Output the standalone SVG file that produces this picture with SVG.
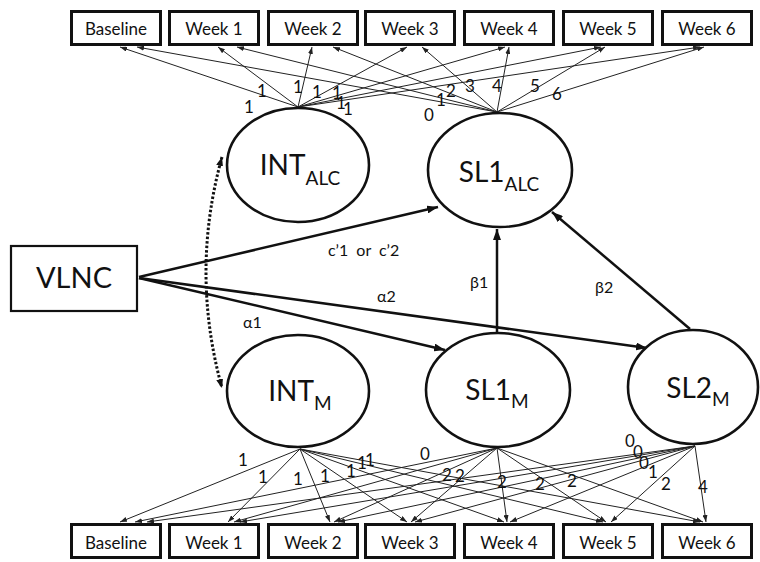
<svg xmlns="http://www.w3.org/2000/svg" width="760" height="562" viewBox="0 0 760 562">
  <defs>
    <style>
      text { font-family: Lato, "Noto Sans", "DejaVu Sans", sans-serif; fill: #111; }
      .box { fill: #fff; stroke: #111; stroke-width: 3; }
      .lat { fill: #fff; stroke: #111; stroke-width: 2.6; }
      .blabel { font-size: 17px; text-anchor: middle; }
      .lname { font-size: 28px; text-anchor: middle; }
      .sub { font-size: 19px; }
      .load { stroke: #222; stroke-width: 1; fill: none; marker-end: url(#tip); }
      .path { stroke: #111; stroke-width: 2.5; fill: none; marker-end: url(#head); }
      .num { font-size: 17px; text-anchor: middle; }
      .coef { font-size: 16px; }
    </style>
    <marker id="head" viewBox="0 0 11 8" refX="11" refY="4" markerWidth="11" markerHeight="8" markerUnits="userSpaceOnUse" orient="auto">
      <path d="M0,0 L11,4 L0,8 z" fill="#111"/>
    </marker>
    <marker id="tip" viewBox="0 0 7 5" refX="7" refY="2.5" markerWidth="7" markerHeight="5" markerUnits="userSpaceOnUse" orient="auto">
      <path d="M0,0 L7,2.5 L0,5 z" fill="#222"/>
    </marker>
    <marker id="dhead" viewBox="0 0 9 7" refX="9" refY="3.5" markerWidth="9" markerHeight="7" markerUnits="userSpaceOnUse" orient="auto-start-reverse">
      <path d="M0,0 L9,3.5 L0,7 z" fill="#111"/>
    </marker>
  </defs>

  <rect width="760" height="562" fill="#fff"/>

  <!-- connectors -->
  <g id="connectors">
    <!-- loadings of the alcohol growth factors -->
    <line class="load" x1="298" y1="107" x2="120" y2="47"/>
    <line class="load" x1="298" y1="107" x2="218" y2="47"/>
    <line class="load" x1="298" y1="107" x2="312" y2="47"/>
    <line class="load" x1="298" y1="107" x2="407" y2="47"/>
    <line class="load" x1="298" y1="107" x2="505" y2="47"/>
    <line class="load" x1="298" y1="107" x2="601" y2="47"/>
    <line class="load" x1="298" y1="107" x2="700" y2="47"/>
    <line class="load" x1="497" y1="112" x2="137" y2="47"/>
    <line class="load" x1="497" y1="112" x2="237" y2="47"/>
    <line class="load" x1="497" y1="112" x2="333" y2="47"/>
    <line class="load" x1="497" y1="112" x2="422" y2="47"/>
    <line class="load" x1="497" y1="112" x2="509" y2="47"/>
    <line class="load" x1="497" y1="112" x2="605" y2="47"/>
    <line class="load" x1="497" y1="112" x2="704" y2="47"/>

    <!-- loadings of the mediator growth factors -->
    <line class="load" x1="300" y1="449" x2="120" y2="522"/>
    <line class="load" x1="300" y1="449" x2="228" y2="522"/>
    <line class="load" x1="300" y1="449" x2="330" y2="522"/>
    <line class="load" x1="300" y1="449" x2="407" y2="522"/>
    <line class="load" x1="300" y1="449" x2="504" y2="522"/>
    <line class="load" x1="300" y1="449" x2="603" y2="522"/>
    <line class="load" x1="300" y1="449" x2="700" y2="522"/>
    <line class="load" x1="497" y1="448" x2="135" y2="522"/>
    <line class="load" x1="497" y1="448" x2="234" y2="522"/>
    <line class="load" x1="497" y1="448" x2="334" y2="522"/>
    <line class="load" x1="497" y1="448" x2="411" y2="522"/>
    <line class="load" x1="497" y1="448" x2="507" y2="522"/>
    <line class="load" x1="497" y1="448" x2="606" y2="522"/>
    <line class="load" x1="497" y1="448" x2="703" y2="522"/>
    <line class="load" x1="695" y1="446" x2="147" y2="522"/>
    <line class="load" x1="695" y1="446" x2="240" y2="522"/>
    <line class="load" x1="695" y1="446" x2="338" y2="522"/>
    <line class="load" x1="695" y1="446" x2="415" y2="522"/>
    <line class="load" x1="695" y1="446" x2="510" y2="522"/>
    <line class="load" x1="695" y1="446" x2="611" y2="522"/>
    <line class="load" x1="695" y1="446" x2="706" y2="522"/>

    <!-- structural paths -->
    <line class="path" x1="139" y1="277" x2="438" y2="207"/>
    <line class="path" x1="139" y1="278" x2="445" y2="350"/>
    <line class="path" x1="139" y1="278" x2="647" y2="348"/>
    <line class="path" x1="497" y1="333" x2="497" y2="229"/>
    <line class="path" x1="690" y1="329" x2="552" y2="212"/>

    <!-- intercept covariance -->
    <path d="M222,157 Q190,272 222,388" fill="none" stroke="#111" stroke-width="3" stroke-dasharray="2.5 2" marker-start="url(#dhead)" marker-end="url(#dhead)"/>

    <!-- path coefficients -->
    <text class="coef" x="328" y="256" word-spacing="4">c’1 or c’2</text>
    <text class="coef" x="243" y="328">α1</text>
    <text class="coef" x="377" y="302">α2</text>
    <text class="coef" x="470" y="288">β1</text>
    <text class="coef" x="595" y="293">β2</text>

    <!-- loading values, alcohol -->
    <text class="num" x="249" y="113">1</text>
    <text class="num" x="262" y="97">1</text>
    <text class="num" x="298" y="93">1</text>
    <text class="num" x="317" y="98">1</text>
    <text class="num" x="337" y="99">1</text>
    <text class="num" x="341" y="109">1</text>
    <text class="num" x="348" y="115">1</text>
    <text class="num" x="429" y="121">0</text>
    <text class="num" x="441" y="106">1</text>
    <text class="num" x="451" y="97">2</text>
    <text class="num" x="470" y="92">3</text>
    <text class="num" x="497" y="92">4</text>
    <text class="num" x="535" y="92">5</text>
    <text class="num" x="557" y="100">6</text>

    <!-- loading values, mediator -->
    <text class="num" x="243" y="466">1</text>
    <text class="num" x="263" y="483">1</text>
    <text class="num" x="298" y="485">1</text>
    <text class="num" x="325" y="482">1</text>
    <text class="num" x="351" y="477">1</text>
    <text class="num" x="362" y="469">1</text>
    <text class="num" x="370" y="466">1</text>
    <text class="num" x="425" y="460">0</text>
    <text class="num" x="447" y="481">2</text>
    <text class="num" x="460" y="482">2</text>
    <text class="num" x="502" y="488">2</text>
    <text class="num" x="540" y="490">2</text>
    <text class="num" x="572" y="487">2</text>
    <text class="num" x="630" y="447">0</text>
    <text class="num" x="638" y="458">0</text>
    <text class="num" x="644" y="469">0</text>
    <text class="num" x="653" y="478">1</text>
    <text class="num" x="666" y="490">2</text>
    <text class="num" x="703" y="493">4</text>
  </g>

  <!-- observed alcohol measures -->
  <g id="alc-baseline"><rect class="box" x="71.5" y="11.5" width="89" height="33"/><text class="blabel" x="116" y="35">Baseline</text></g>
  <g id="alc-week1"><rect class="box" x="169.5" y="11.5" width="89" height="33"/><text class="blabel" x="214" y="35">Week 1</text></g>
  <g id="alc-week2"><rect class="box" x="268.5" y="11.5" width="89" height="33"/><text class="blabel" x="313" y="35">Week 2</text></g>
  <g id="alc-week3"><rect class="box" x="365.5" y="11.5" width="89" height="33"/><text class="blabel" x="410" y="35">Week 3</text></g>
  <g id="alc-week4"><rect class="box" x="464.5" y="11.5" width="89" height="33"/><text class="blabel" x="509" y="35">Week 4</text></g>
  <g id="alc-week5"><rect class="box" x="563.5" y="11.5" width="89" height="33"/><text class="blabel" x="608" y="35">Week 5</text></g>
  <g id="alc-week6"><rect class="box" x="662.5" y="11.5" width="89" height="33"/><text class="blabel" x="707" y="35">Week 6</text></g>

  <!-- observed mediator measures -->
  <g id="m-baseline"><rect class="box" x="71.5" y="524.5" width="89" height="33"/><text class="blabel" x="116" y="549">Baseline</text></g>
  <g id="m-week1"><rect class="box" x="169.5" y="524.5" width="89" height="33"/><text class="blabel" x="214" y="549">Week 1</text></g>
  <g id="m-week2"><rect class="box" x="268.5" y="524.5" width="89" height="33"/><text class="blabel" x="313" y="549">Week 2</text></g>
  <g id="m-week3"><rect class="box" x="365.5" y="524.5" width="89" height="33"/><text class="blabel" x="410" y="549">Week 3</text></g>
  <g id="m-week4"><rect class="box" x="464.5" y="524.5" width="89" height="33"/><text class="blabel" x="509" y="549">Week 4</text></g>
  <g id="m-week5"><rect class="box" x="563.5" y="524.5" width="89" height="33"/><text class="blabel" x="608" y="549">Week 5</text></g>
  <g id="m-week6"><rect class="box" x="662.5" y="524.5" width="89" height="33"/><text class="blabel" x="707" y="549">Week 6</text></g>

  <!-- predictor -->
  <g id="vlnc">
    <rect x="11" y="246" width="126" height="65" fill="#fff" stroke="#111" stroke-width="2.2"/>
    <text x="74" y="288" font-size="29" text-anchor="middle">VLNC</text>
  </g>

  <!-- latent growth factors -->
  <g id="int-alc">
    <ellipse class="lat" cx="298" cy="165" rx="71" ry="57"/>
    <text class="lname" x="300" y="175">INT<tspan class="sub" dy="10">ALC</tspan></text>
  </g>
  <g id="sl1-alc">
    <ellipse class="lat" cx="500" cy="170" rx="72" ry="57"/>
    <text class="lname" x="499" y="182">SL1<tspan class="sub" dy="9">ALC</tspan></text>
  </g>
  <g id="int-m">
    <ellipse class="lat" cx="298" cy="391" rx="71" ry="56"/>
    <text class="lname" x="300" y="401">INT<tspan class="sub" dy="9">M</tspan></text>
  </g>
  <g id="sl1-m">
    <ellipse class="lat" cx="498" cy="390" rx="72" ry="57"/>
    <text class="lname" x="497" y="400">SL1<tspan class="sub" dy="8">M</tspan></text>
  </g>
  <g id="sl2-m">
    <ellipse class="lat" cx="693" cy="387" rx="65" ry="57"/>
    <text class="lname" x="698" y="398">SL2<tspan class="sub" dy="8">M</tspan></text>
  </g>
</svg>
